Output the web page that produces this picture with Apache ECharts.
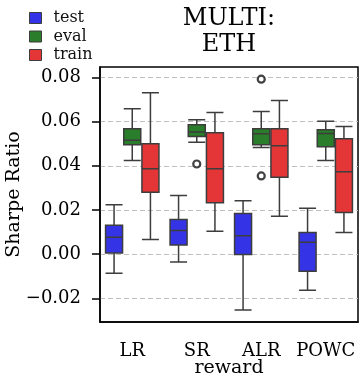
<!DOCTYPE html>
<html lang="en">
<head>
    <meta charset="UTF-8">
    <title>MULTI: ETH</title>
    <script src="https://cdn.jsdelivr.net/npm/echarts@6.0.0/dist/echarts.min.js"></script>
    <style>
        html, body { margin: 0; padding: 0; background: #fff; }
    </style>
</head>
<body>
    <div id="main" style="width: 362px; height: 382px;"></div>

    <script>
        // categories and tick values
        var rewards = ['LR', 'SR', 'ALR', 'POWC'];
        var yTicks = [-0.02, 0, 0.02, 0.04, 0.06, 0.08];

        // box stats: [lower whisker, Q1, median, Q3, upper whisker]
        var testBoxes = [
            [-0.0086, 0.0005, 0.0077, 0.0131, 0.0224],
            [-0.0036, 0.0041, 0.0107, 0.0157, 0.0265],
            [-0.0253, -0.0001, 0.0083, 0.0184, 0.0242],
            [-0.0163, -0.0077, 0.0054, 0.0098, 0.0208]
        ];
        var evalBoxes = [
            [0.0424, 0.0495, 0.0516, 0.0567, 0.0658],
            [0.0506, 0.0533, 0.0553, 0.0586, 0.0608],
            [0.0483, 0.0495, 0.0545, 0.0568, 0.0646],
            [0.0424, 0.0486, 0.0546, 0.0563, 0.0601]
        ];
        var trainBoxes = [
            [0.0066, 0.0280, 0.0386, 0.0500, 0.0730],
            [0.0104, 0.0233, 0.0386, 0.0549, 0.0641],
            [0.0172, 0.0348, 0.0491, 0.0568, 0.0695],
            [0.0098, 0.0188, 0.0373, 0.0522, 0.0578]
        ];
        // outliers (all belong to eval, the middle box)
        var evalOutliers = [
            ['SR', 0.0408],
            ['ALR', 0.0792],
            ['ALR', 0.0354]
        ];

        var colors = { test: '#3434e6', eval: '#2a7d2a', train: '#e43636' };

        var chart = echarts.init(document.getElementById('main'));
        var font = 'DejaVu Serif';
        var lineColor = '#3d3d3d';

        function boxSeries(name, data) {
            return {
                name: name,
                type: 'boxplot',
                data: data,
                boxWidth: [17, 17],
                itemStyle: { color: colors[name], borderColor: lineColor, borderWidth: 1.5 },
                emphasis: { disabled: true }
            };
        }

        function legendItem(name) {
            return { name: name, itemStyle: { color: colors[name], borderColor: lineColor, borderWidth: 1 } };
        }

        function fmt(v) {
            return v.toFixed(2).replace('-', '\u2212');
        }

        var option = {
            animation: false,
            title: {
                text: 'MULTI:\nETH',
                left: 224,
                textAlign: 'center',
                top: 1,
                textStyle: { fontFamily: font, fontSize: 24, fontWeight: 'normal', color: '#000', lineHeight: 26 }
            },
            legend: {
                orient: 'vertical',
                left: 24,
                top: 5,
                itemWidth: 12,
                itemHeight: 11,
                itemGap: 2.5,
                icon: 'rect',
                data: ['test', 'eval', 'train'].map(legendItem),
                textStyle: { fontFamily: font, fontSize: 16, color: '#111', padding: [0, 0, 0, 7] }
            },
            grid: {
                left: 100, right: 4, top: 67, bottom: 60,
                outerBoundsMode: 'none',
                containLabel: false,
                show: true,
                borderColor: '#000',
                borderWidth: 1.5,
                backgroundColor: 'transparent'
            },
            xAxis: {
                type: 'category',
                data: rewards,
                name: 'reward',
                nameLocation: 'middle',
                nameGap: 37,
                nameMoveOverlap: false,
                nameTextStyle: { fontFamily: font, fontSize: 19, color: '#000' },
                axisLine: { onZero: false, lineStyle: { color: '#000', width: 1.5 } },
                axisTick: { alignWithLabel: true, length: 8, lineStyle: { color: '#000', width: 1.5 } },
                axisLabel: { interval: 0, fontFamily: font, fontSize: 18, color: '#000', margin: 20 },
                splitLine: { show: false }
            },
            yAxis: {
                type: 'value',
                min: -0.0307,
                max: 0.0847,
                name: 'Sharpe Ratio',
                nameLocation: 'middle',
                nameGap: 76,
                nameMoveOverlap: false,
                nameTextStyle: { fontFamily: font, fontSize: 19, color: '#000' },
                axisLine: { show: true, lineStyle: { color: '#000', width: 1.5 } },
                axisTick: { show: true, length: 8, customValues: yTicks, lineStyle: { color: '#000', width: 1.5 } },
                axisLabel: {
                    fontFamily: font, fontSize: 18, color: '#000', margin: 19,
                    customValues: yTicks,
                    formatter: fmt
                },
                splitLine: { show: true, lineStyle: { color: '#bfbfbf', type: [5, 3], width: 1 } }
            },
            series: [
                boxSeries('test', testBoxes),
                boxSeries('eval', evalBoxes),
                boxSeries('train', trainBoxes),
                {
                    name: 'outliers',
                    type: 'scatter',
                    data: evalOutliers,
                    symbol: 'circle',
                    symbolSize: 7,
                    itemStyle: { color: '#fff', borderColor: '#111', borderWidth: 2.2 },
                    z: 5
                }
            ]
        };

        chart.setOption(option);
    </script>
</body>
</html>
